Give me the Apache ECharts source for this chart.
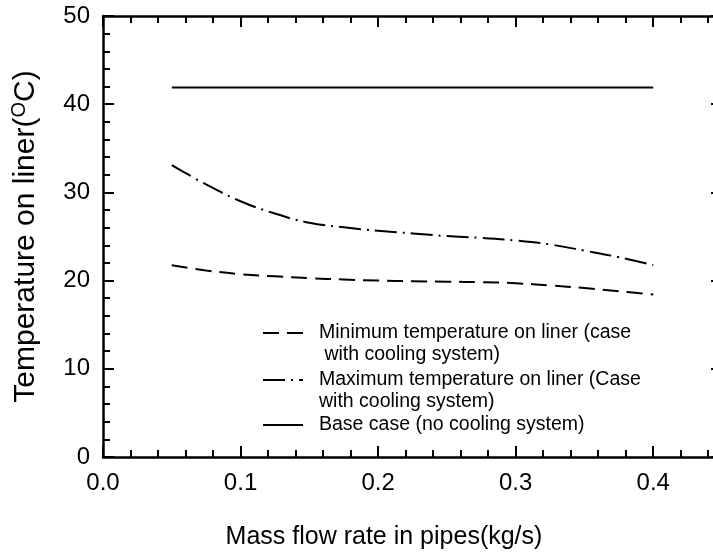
<!DOCTYPE html>
<html>
<head>
<meta charset="utf-8">
<script src="https://cdn.jsdelivr.net/npm/echarts@6/dist/echarts.min.js"></script>
<style>html,body{margin:0;padding:0;background:#fff}#c{width:713px;height:553px}</style>
</head>
<body>
<div id="c"></div>
<script>
var flowRates = [0.05, 0.075, 0.1, 0.125, 0.15, 0.175, 0.2, 0.225, 0.25, 0.275, 0.3, 0.325, 0.35, 0.375, 0.4];
var minTemp = [21.73, 21.15, 20.72, 20.48, 20.27, 20.12, 20.0, 19.93, 19.88, 19.82, 19.7, 19.45, 19.15, 18.8, 18.42];
var maxTemp = [33.1, 30.9, 29.0, 27.6, 26.55, 26.05, 25.65, 25.35, 25.05, 24.85, 24.55, 24.1, 23.4, 22.65, 21.75];
var baseRates = [0.05, 0.4];
var baseTemp = [41.9, 41.9];
var xTicks = [0.0, 0.1, 0.2, 0.3, 0.4];
var yTicks = [0, 10, 20, 30, 40, 50];

var names = [
  'Minimum temperature on liner (case\n with cooling system)',
  'Maximum temperature on liner (Case\nwith cooling system)',
  'Base case (no cooling system)'
];

function pairs(xs, ys) { return xs.map(function (x, i) { return [x, ys[i]]; }); }

var FONT = 'Liberation Sans';
var chart = echarts.init(document.getElementById('c'));

function xAx(pos, interval, tickLen, showLine, showLabel) {
  return {
    type: 'value', position: pos, min: 0, max: 0.45, interval: interval,
    axisLine: { show: showLine, onZero: false, lineStyle: { color: '#000', width: 2.5 } },
    axisTick: { show: true, inside: true, length: tickLen, lineStyle: { color: '#000', width: 2 } },
    axisLabel: {
      show: showLabel, margin: 14, color: '#000', fontFamily: FONT, fontSize: 24,
      formatter: function (v) { return xTicks.some(function (t) { return Math.abs(t - v) < 1e-9; }) ? v.toFixed(1) : ''; }
    },
    splitLine: { show: false }
  };
}

function legendFor(i, top, twoLine) {
  return {
    data: [names[i]], orient: 'vertical', left: 262, top: top, padding: 0,
    itemWidth: 40, itemHeight: 14,
    itemStyle: { color: 'rgba(0,0,0,0)', borderWidth: 0, opacity: 0 },
    formatter: function (n) { return twoLine ? '\n' + n : n; },
    textStyle: { color: '#000', fontFamily: FONT, fontSize: 19.5, lineHeight: 22, padding: [0, 0, 0, 11] }
  };
}

var option = {
  animation: false,
  backgroundColor: '#fff',
  grid: { left: 103, right: -9, top: 16, bottom: 96, outerBoundsMode: 'none', containLabel: false },
  xAxis: [
    Object.assign(xAx('bottom', 0.1, 11, true, true), {
      name: 'Mass flow rate in pipes(kg/s)', nameLocation: 'middle', nameGap: 68,
      nameTextStyle: { color: '#000', fontFamily: FONT, fontSize: 25, padding: [0, 57, 0, 0] }
    }),
    xAx('bottom', 0.02, 7, false, false),
    xAx('top', 0.1, 11, true, false),
    xAx('top', 0.02, 7, false, false)
  ],
  yAxis: [
    {
      type: 'value', position: 'left', min: 0, max: 50, interval: 10,
      name: '{a|Temperature on liner(}{s|O}{a|C)}', nameLocation: 'middle', nameGap: 61, nameRotate: 90,
      nameTextStyle: {
        color: '#000', fontFamily: FONT, fontSize: 30,
        rich: {
          a: { fontFamily: FONT, fontSize: 30, color: '#000' },
          s: { fontFamily: FONT, fontSize: 20, color: '#000', verticalAlign: 'top', padding: [0, 0, 13, 0] }
        }
      },
      axisLine: { show: true, onZero: false, lineStyle: { color: '#000', width: 2.5 } },
      axisTick: { show: true, inside: true, length: 11, lineStyle: { color: '#000', width: 2 } },
      minorTick: { show: true, splitNumber: 5, length: 7, lineStyle: { color: '#000', width: 2 } },
      axisLabel: {
        margin: 13, color: '#000', fontFamily: FONT, fontSize: 24,
        formatter: function (v) { return yTicks.indexOf(v) >= 0 ? String(v) : ''; }
      },
      splitLine: { show: false }, minorSplitLine: { show: false }
    },
    {
      type: 'value', position: 'right', min: 0, max: 50, interval: 10,
      axisLine: { show: false, onZero: false },
      axisTick: { show: true, inside: true, length: 11, lineStyle: { color: '#000', width: 2 } },
      axisLabel: { show: false }, splitLine: { show: false }
    }
  ],
  legend: [
    legendFor(0, 300, true),
    legendFor(1, 347, true),
    legendFor(2, 414, false)
  ],
  series: [
    {
      name: names[0], type: 'line', xAxisIndex: 0, yAxisIndex: 0, smooth: 0.4, symbol: 'none',
      data: pairs(flowRates, minTemp),
      lineStyle: { color: '#000', width: 2, type: [16, 8] }, itemStyle: { color: '#000' }
    },
    {
      name: names[1], type: 'line', xAxisIndex: 0, yAxisIndex: 0, smooth: 0.4, symbol: 'none',
      data: pairs(flowRates, maxTemp),
      lineStyle: { color: '#000', width: 2, type: [22, 6, 2, 6] }, itemStyle: { color: '#000' }
    },
    {
      name: names[2], type: 'line', xAxisIndex: 0, yAxisIndex: 0, symbol: 'none',
      data: pairs(baseRates, baseTemp),
      lineStyle: { color: '#000', width: 2, type: 'solid' }, itemStyle: { color: '#000' }
    }
  ]
};
chart.setOption(option);
</script>
</body>
</html>
